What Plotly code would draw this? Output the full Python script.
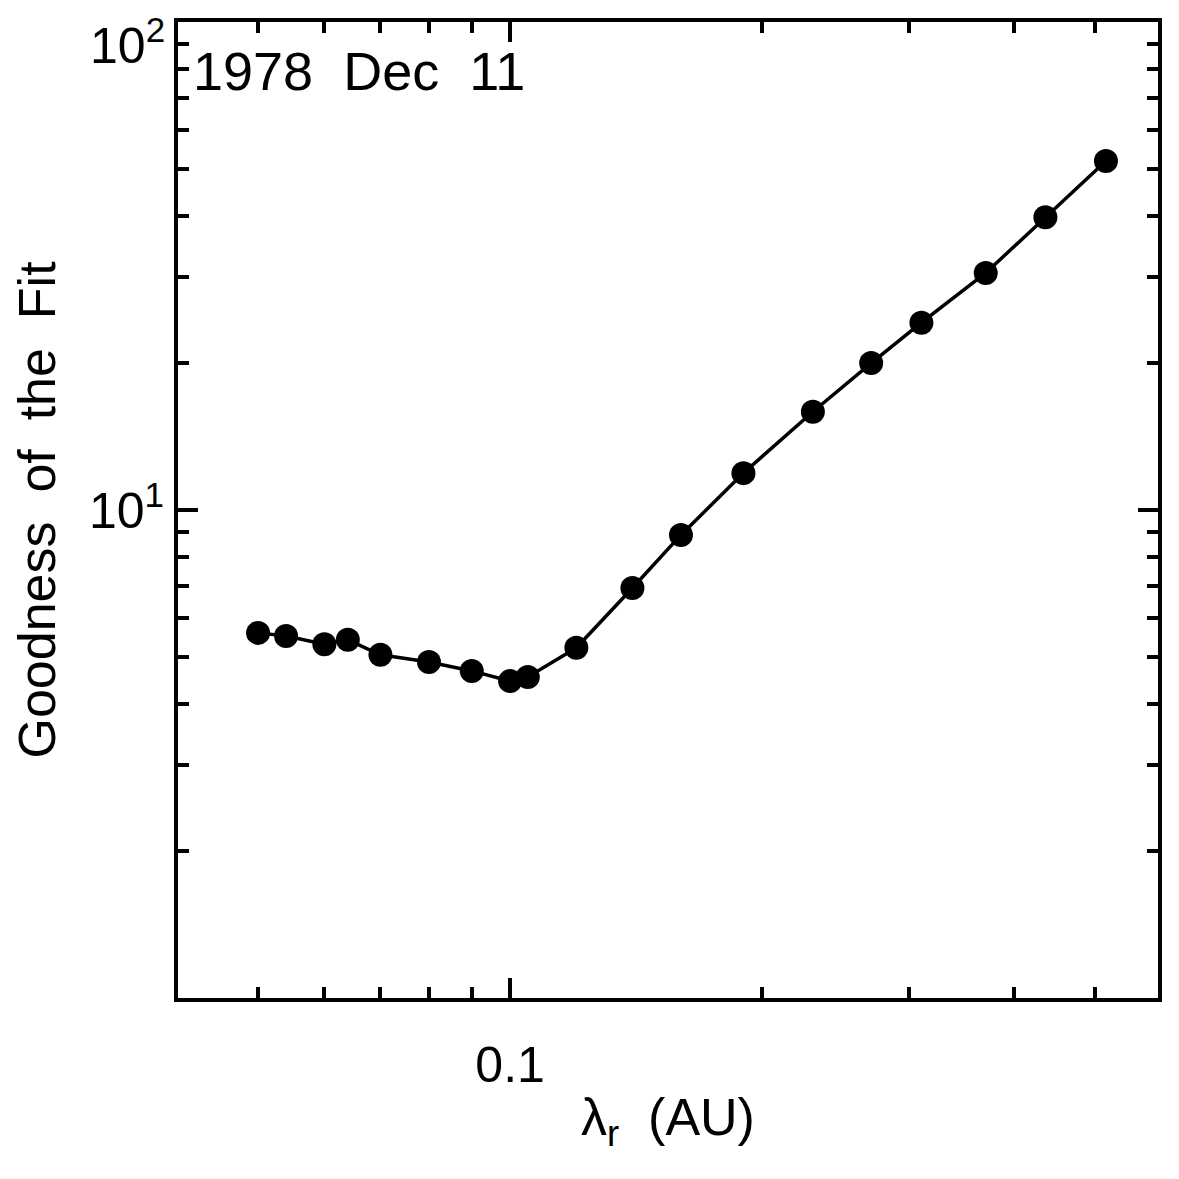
import plotly.graph_objects as go

# correlation length vs goodness of fit
lam_r = [0.05, 0.054, 0.06, 0.064, 0.07, 0.08, 0.09, 0.1, 0.105, 0.12, 0.14,
         0.16, 0.19, 0.23, 0.27, 0.31, 0.37, 0.436, 0.515]
goodness = [5.6, 5.52, 5.31, 5.42, 5.05, 4.88, 4.68, 4.46, 4.55, 5.22, 6.92,
            8.89, 11.9, 15.9, 20.0, 24.2, 30.6, 39.8, 51.9]

x_major = [0.1]
x_major_text = ["0.1"]
x_minor = [0.05, 0.06, 0.07, 0.08, 0.09, 0.2, 0.3, 0.4, 0.5]
y_major = [10, 100]
y_major_text = ["10<sup>1</sup>", ""]   # top label drawn separately, IDL puts it below the tick
y_minor = [2, 3, 4, 5, 6, 7, 8, 9, 20, 30, 40, 50, 60, 70, 80, 90]

font = "Liberation Sans"
nb = "\u00a0"

fig = go.Figure()
fig.add_trace(go.Scatter(
    x=lam_r, y=goodness, mode="lines+markers",
    line=dict(color="black", width=3.5),
    marker=dict(color="black", size=24),
    showlegend=False,
))

fig.add_annotation(
    text="1978" + nb * 2 + "Dec" + nb * 2 + "11", xref="paper", yref="paper",
    x=0.013, y=0.983, xanchor="left", yanchor="top", showarrow=False,
    font=dict(family=font, size=54, color="black"),
)
# the 10^2 label
fig.add_annotation(
    text="10<sup>2</sup>", xref="paper", yref="paper", x=0, y=1,
    xanchor="right", yanchor="top", xshift=-12, yshift=13, showarrow=False,
    borderpad=0,
    font=dict(family=font, size=50, color="black"),
)

axis_common = dict(
    showline=True, linecolor="black", linewidth=4, mirror="ticks",
    ticks="inside", tickcolor="black", tickwidth=4, ticklen=20,
    showgrid=False, zeroline=False,
    tickfont=dict(family=font, size=50, color="black"),
)
minor_common = dict(tickmode="array", ticks="inside", ticklen=11, tickwidth=4,
                    tickcolor="black", showgrid=False)

fig.update_xaxes(
    type="log", range=[-1.3967, -0.226],
    tickmode="array", tickvals=x_major, ticktext=x_major_text,
    ticklabelstandoff=20,
    minor=dict(tickvals=x_minor, **minor_common),
    title=dict(text="λ<sub>r</sub>" + nb * 2 + "(AU)",
               font=dict(family=font, size=52, color="black"), standoff=8),
    **axis_common,
)
fig.update_yaxes(
    type="log", range=[0, 2],
    tickmode="array", tickvals=y_major, ticktext=y_major_text,
    ticklabelstandoff=0,
    minor=dict(tickvals=y_minor, **minor_common),
    title=dict(text=("Goodness" + nb * 2 + "of" + nb * 2 + "the" + nb * 2 + "Fit"),
               font=dict(family=font, size=52, color="black"), standoff=28),
    **axis_common,
)

# page body has an 8px margin, so margins are shifted by that
fig.update_layout(
    width=1179, height=1179,
    margin=dict(l=170, r=29, t=14, b=189, autoexpand=False),
    paper_bgcolor="white", plot_bgcolor="white",
)

fig.write_html("out.html")
